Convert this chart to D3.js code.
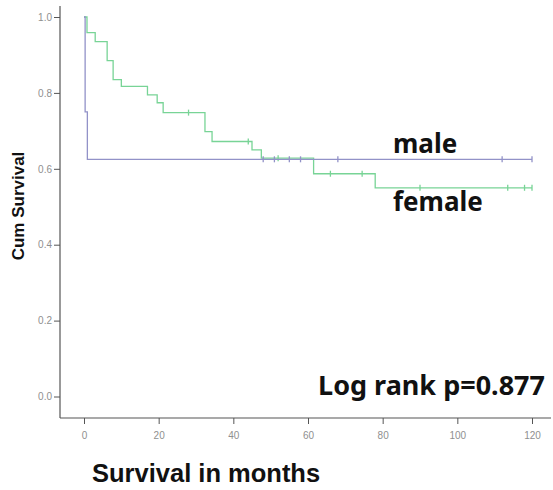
<!DOCTYPE html>
<html>
<head>
<meta charset="utf-8">
<script src="https://cdn.jsdelivr.net/npm/d3@7"></script>
<style>
html,body{margin:0;padding:0;background:#fff;}
svg{display:block;}
</style>
</head>
<body>
<svg id="chart" width="553" height="490"></svg>
<script>
// ---- data ----
const xTicks = [0, 20, 40, 60, 80, 100, 120];
const yTicks = [0.0, 0.2, 0.4, 0.6, 0.8, 1.0];

const maleTimes = [0, 0.3, 0.9, 120];
const maleSurv  = [1.0, 0.75, 0.625, 0.625];
const maleCensor = [48, 51, 55, 58, 68, 112, 120];

const femaleTimes = [0, 0.8, 3.0, 6.2, 7.8, 10, 17, 19.6, 21.2, 32.4, 34.3, 45, 47.5, 61.5, 78, 120];
const femaleSurv  = [1.0, 0.959, 0.935, 0.885, 0.835, 0.817, 0.795, 0.774, 0.748, 0.698, 0.672, 0.650, 0.628, 0.587, 0.550, 0.550];
const femaleCensor = [28, 44, 52, 66, 74.5, 90, 113.5, 118, 120];

const seriesLabels = ["male", "female"];
const xTitle = "Survival in months";
const yTitle = "Cum Survival";
const note = "Log rank p=0.877";

// ---- drawing ----
const svg = d3.select("#chart");
const x = d3.scaleLinear().domain([0, 120]).range([84, 532]);
const y = d3.scaleLinear().domain([0, 1]).range([396.5, 17]);

const axisColor = "#555";
const labelColor = "#8f8f8f";

// axis lines
svg.append("line").attr("x1", 60).attr("x2", 60).attr("y1", 6).attr("y2", 418)
  .attr("stroke", axisColor).attr("stroke-width", 1.2);
svg.append("line").attr("x1", 60).attr("x2", 551).attr("y1", 418).attr("y2", 418)
  .attr("stroke", axisColor).attr("stroke-width", 1.2);

// y axis ticks
const yAxis = d3.axisLeft(y).tickValues(yTicks).tickFormat(d3.format(".1f")).tickSize(6).tickPadding(2);
const gy = svg.append("g").attr("transform", "translate(60,0)").call(yAxis);
gy.select(".domain").remove();
gy.selectAll(".tick line").attr("stroke", axisColor);
gy.selectAll(".tick text").attr("fill", labelColor).style("font-family", "Arial, 'Liberation Sans', sans-serif").style("font-size", "10px");

// x axis ticks
const xAxis = d3.axisBottom(x).tickValues(xTicks).tickFormat(d3.format("d")).tickSize(6).tickPadding(8);
const gx = svg.append("g").attr("transform", "translate(0,418)").call(xAxis);
gx.select(".domain").remove();
gx.selectAll(".tick line").attr("stroke", axisColor);
gx.selectAll(".tick text").attr("fill", labelColor).style("font-family", "Arial, 'Liberation Sans', sans-serif").style("font-size", "10px");

const line = d3.line().x(d => x(d[0])).y(d => y(d[1])).curve(d3.curveStepAfter);

function drawSeries(times, surv, censor, color) {
  const pts = times.map((t, i) => [t, surv[i]]);
  svg.append("path").datum(pts).attr("d", line)
    .attr("fill", "none").attr("stroke", color).attr("stroke-width", 1.3);
  const survAt = t => { let s = surv[0]; times.forEach((tt, i) => { if (tt <= t) s = surv[i]; }); return s; };
  svg.append("g").selectAll("line").data(censor).join("line")
    .attr("x1", d => x(d)).attr("x2", d => x(d))
    .attr("y1", d => y(survAt(d)) - 3).attr("y2", d => y(survAt(d)) + 3)
    .attr("stroke", color).attr("stroke-width", 1.3);
}

drawSeries(femaleTimes, femaleSurv, femaleCensor, "#78d496");
drawSeries(maleTimes, maleSurv, maleCensor, "#9292c8");

// series labels
const lblFont = "'Noto Sans', 'Open Sans', sans-serif";
svg.append("text").attr("x", 393).attr("y", 153).text(seriesLabels[0])
  .style("font-family", lblFont).style("font-weight", "bold").style("font-size", "26px").attr("fill", "#111");
svg.append("text").attr("x", 393).attr("y", 211).text(seriesLabels[1])
  .style("font-family", lblFont).style("font-weight", "bold").style("font-size", "26px").attr("fill", "#111");

// note
svg.append("text").attr("x", 545).attr("y", 395).attr("text-anchor", "end").text(note)
  .style("font-family", lblFont).style("font-weight", "bold").style("font-size", "27px").attr("fill", "#111");

// axis titles
svg.append("text").attr("x", 92).attr("y", 482).text(xTitle)
  .style("font-family", "'Liberation Sans', Arial, sans-serif").style("font-weight", "bold").style("font-size", "25.5px").attr("fill", "#111");
svg.append("text").attr("transform", "translate(24,206) rotate(-90)").attr("text-anchor", "middle").text(yTitle)
  .style("font-family", "'Liberation Sans', Arial, sans-serif").style("font-weight", "bold").style("font-size", "17px").attr("fill", "#111");
</script>
</body>
</html>
